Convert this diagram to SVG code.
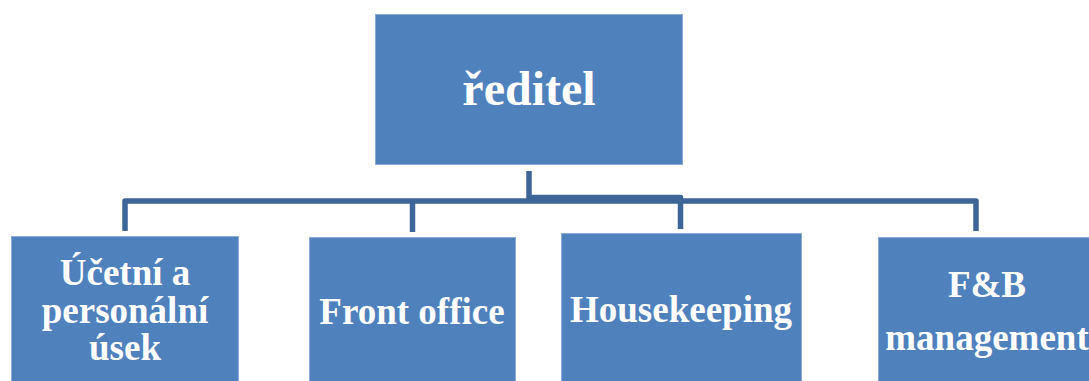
<svg xmlns="http://www.w3.org/2000/svg" width="1089" height="381" viewBox="0 0 1089 381">
<style>
.box{fill:#4F81BD;stroke:#8EABD7;stroke-width:1}
.lbl{font-family:"Liberation Serif","Times New Roman",serif;font-weight:bold;fill:#FFFFFF;text-anchor:middle}
.c{fill:none;stroke:#3D6598;stroke-width:5.5;stroke-linejoin:round}
</style>
<rect width="1089" height="381" fill="#FFFFFF"/>
<g id="connectors">
<path class="c" d="M529 171V201"/>
<path class="c" d="M125 231V201H976V231"/>
<path class="c" d="M412.5 201V232"/>
<path class="c" d="M529 197.5H680.5V229"/>
</g>
<g id="reditel">
<rect class="box" x="375.5" y="14.5" width="307" height="150"/>
<text class="lbl" x="529" y="105" font-size="48">ředitel</text>
</g>
<g id="ucetni">
<rect class="box" x="11.5" y="236.5" width="227" height="150"/>
<text class="lbl" x="125" y="285" font-size="37">Účetní a</text>
<text class="lbl" x="125" y="323" font-size="37">personální</text>
<text class="lbl" x="125" y="360" font-size="37">úsek</text>
</g>
<g id="front-office">
<rect class="box" x="309.5" y="237.5" width="206" height="150"/>
<text class="lbl" x="412" y="324" font-size="37">Front office</text>
</g>
<g id="housekeeping">
<rect class="box" x="561.5" y="233.5" width="240" height="150"/>
<text class="lbl" x="681" y="322" font-size="37">Housekeeping</text>
</g>
<g id="fb-management">
<rect class="box" x="878.5" y="237.5" width="220" height="150"/>
<text class="lbl" x="987" y="297" font-size="37">F&amp;B</text>
<text class="lbl" x="987" y="350" font-size="37">management</text>
</g>
</svg>
